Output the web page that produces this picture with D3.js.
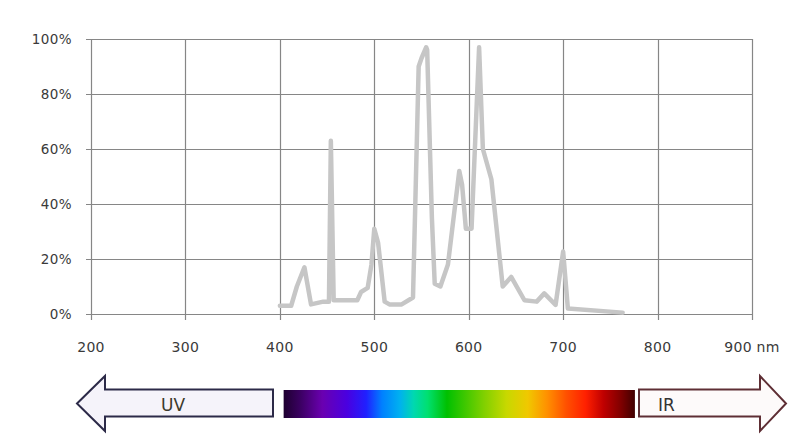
<!DOCTYPE html>
<html>
<head>
<meta charset="utf-8">
<script src="https://cdn.jsdelivr.net/npm/d3@7"></script>
<style>
  html, body { margin: 0; padding: 0; background: #ffffff; }
  svg { display: block; }
  text { font-family: "DejaVu Sans", sans-serif; fill: #3a3a3a; }
</style>
</head>
<body>
<svg id="chart" width="800" height="445"></svg>
<script>
// ---- data ----
const xTickValues = [200, 300, 400, 500, 600, 700, 800, 900];
const xTickLabels = ["200", "300", "400", "500", "600", "700", "800", "900 nm"];
const yTickValues = [0, 20, 40, 60, 80, 100];
const yTickLabels = ["0%", "20%", "40%", "60%", "80%", "100%"];

const wavelengths = [400, 412, 418, 426, 433, 446, 452, 454, 457, 482, 486, 493, 497, 500, 504, 511, 516, 529, 541, 547, 550, 555, 556, 561, 564, 570, 578, 590, 593, 597, 603, 611, 615, 624, 636, 645, 659, 672, 680, 692, 700, 705, 763];
const intensity   = [3,   3,   10,  17,  3.5, 4.5, 4.5, 63,  5,   5,   8,   9.5, 18,  31,  26,  4.5, 3.5, 3.5, 6,   90,  93,  97,  96,  35,  11,  10,  18,  52,  47,  31,  31,  97,  60,  49,  10,  13.5, 5,  4.5, 7.5, 3.3, 22.7, 2,  0.5];

const spectrumRange = [404, 776]; // nm covered by the colour bar
const spectrumOffsets = [0, 0.046, 0.11, 0.18, 0.235, 0.28, 0.33, 0.37, 0.41, 0.465, 0.57, 0.635, 0.695, 0.75, 0.805, 0.86, 0.91, 0.96, 1];
const spectrumColors  = ["#1e0030", "#3a0060", "#6a00b0", "#4a00e0", "#2020ff", "#0080ff", "#00b0f0", "#00d8b0", "#00e070", "#00c000", "#80d000", "#c8d800", "#f0c800", "#ff9000", "#ff5000", "#ff2000", "#c00000", "#800000", "#400000"];

// ---- layout ----
const svg = d3.select("#chart");
const plot = { left: 91, right: 752, top: 39, bottom: 314 };

const x = d3.scaleLinear().domain([200, 900]).range([plot.left, plot.right]);
const y = d3.scaleLinear().domain([0, 100]).range([plot.bottom, plot.top]);

const gridColor = "#868686";

// horizontal gridlines
svg.append("g").selectAll("line").data(yTickValues).join("line")
  .attr("x1", plot.left - 5).attr("x2", plot.right)
  .attr("y1", d => Math.round(y(d)) + 0.5).attr("y2", d => Math.round(y(d)) + 0.5)
  .attr("stroke", gridColor).attr("stroke-width", 1.2);

// vertical gridlines
svg.append("g").selectAll("line").data(xTickValues).join("line")
  .attr("x1", d => Math.round(x(d)) + 0.5).attr("x2", d => Math.round(x(d)) + 0.5)
  .attr("y1", plot.top).attr("y2", plot.bottom + 6)
  .attr("stroke", gridColor).attr("stroke-width", 1.2);

// y labels
svg.append("g").selectAll("text").data(yTickValues).join("text")
  .attr("x", plot.left - 19).attr("y", d => y(d))
  .attr("dy", "0.36em").attr("text-anchor", "end")
  .attr("font-size", "13.5px").attr("letter-spacing", "0.4px")
  .text((d, i) => yTickLabels[i]);

// x labels
svg.append("g").selectAll("text").data(xTickValues).join("text")
  .attr("x", d => x(d)).attr("y", 352)
  .attr("text-anchor", "middle")
  .attr("font-size", "14px").attr("letter-spacing", "0.3px")
  .text((d, i) => xTickLabels[i]);

// spectrum line
const line = d3.line().x(d => x(d[0])).y(d => y(d[1])).curve(d3.curveLinear);
svg.append("path")
  .datum(wavelengths.map((w, i) => [w, intensity[i]]))
  .attr("d", line)
  .attr("fill", "none").attr("stroke", "#c6c6c6")
  .attr("stroke-width", 4.5).attr("stroke-linejoin", "round").attr("stroke-linecap", "round");

// colour bar
const defs = svg.append("defs");
const grad = defs.append("linearGradient").attr("id", "spec").attr("x1", "0%").attr("x2", "100%");
grad.selectAll("stop").data(spectrumOffsets).join("stop")
  .attr("offset", d => d).attr("stop-color", (d, i) => spectrumColors[i]);

const barTop = 390, barH = 28;
svg.append("rect")
  .attr("x", x(spectrumRange[0])).attr("y", barTop)
  .attr("width", x(spectrumRange[1]) - x(spectrumRange[0])).attr("height", barH)
  .attr("fill", "url(#spec)");

// arrows
const shTop = 389.5, shBot = 416.5, hdTop = 376, hdBot = 431, mid = 403.5;
// UV (left)
const uv = { tip: 77, base: 105, end: 273 };
svg.append("path")
  .attr("d", `M${uv.tip},${mid} L${uv.base},${hdTop} L${uv.base},${shTop} L${uv.end},${shTop} L${uv.end},${shBot} L${uv.base},${shBot} L${uv.base},${hdBot} Z`)
  .attr("fill", "#f5f3fa").attr("stroke", "#2c2a48").attr("stroke-width", 2).attr("stroke-linejoin", "miter");
svg.append("text").attr("x", 173).attr("y", 411).attr("text-anchor", "middle")
  .attr("font-family", "Liberation Sans, Arial, sans-serif")
  .attr("font-size", "17px").style("fill", "#3c3a2c").text("UV");

// IR (right)
const ir = { start: 639, base: 760, tip: 786 };
svg.append("path")
  .attr("d", `M${ir.start},${shTop} L${ir.base},${shTop} L${ir.base},${hdTop} L${ir.tip},${mid} L${ir.base},${hdBot} L${ir.base},${shBot} L${ir.start},${shBot} Z`)
  .attr("fill", "#fdfafa").attr("stroke", "#5e2e34").attr("stroke-width", 2).attr("stroke-linejoin", "miter");
svg.append("text").attr("x", 658).attr("y", 411).attr("text-anchor", "start")
  .attr("font-family", "Liberation Sans, Arial, sans-serif")
  .attr("font-size", "17px").style("fill", "#333").text("IR");
</script>
</body>
</html>
